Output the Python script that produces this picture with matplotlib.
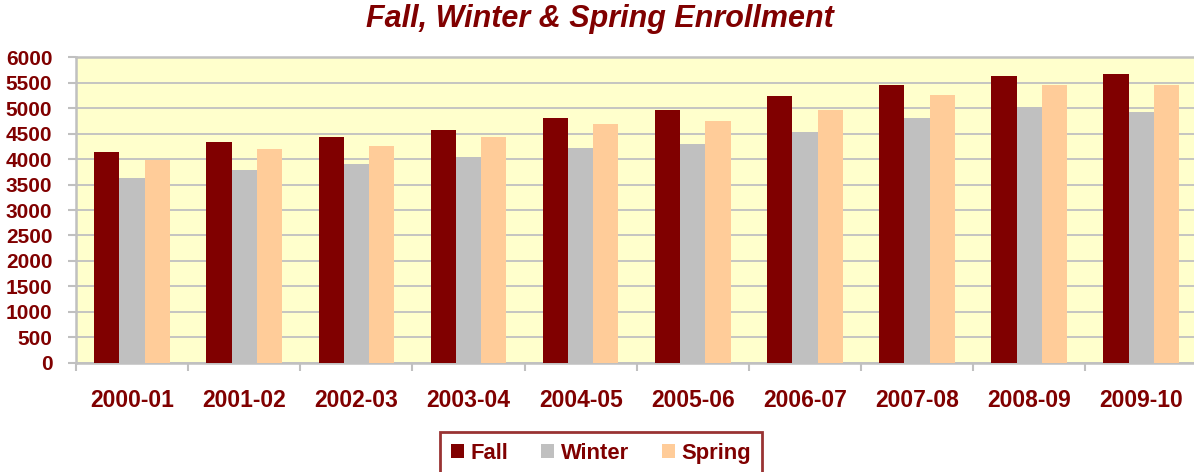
import matplotlib
matplotlib.use("Agg")
import matplotlib.pyplot as plt
import numpy as np

years = ["2000-01", "2001-02", "2002-03", "2003-04", "2004-05",
         "2005-06", "2006-07", "2007-08", "2008-09", "2009-10"]
fall = [4130, 4340, 4430, 4580, 4800, 4960, 5230, 5460, 5630, 5670]
winter = [3620, 3780, 3900, 4050, 4210, 4290, 4530, 4800, 5020, 4920]
spring = [3980, 4200, 4260, 4430, 4680, 4740, 4970, 5260, 5460, 5460]
yticks = [0, 500, 1000, 1500, 2000, 2500, 3000, 3500, 4000, 4500, 5000, 5500, 6000]

plt.rcParams['font.family'] = ['Liberation Sans', 'DejaVu Sans']
DARK = '#800000'
GRID = '#C0C0C0'

W, H = 1194, 472
fig = plt.figure(figsize=(W / 100, H / 100), dpi=100)
ax = fig.add_axes([76 / W, 1 - 362.7 / H, (1197.4 - 76) / W, (362.7 - 57.3) / H])
ax.set_facecolor('#FFFFCC')

x = np.arange(len(years))
bw = 0.225
ax.bar(x - bw, fall, bw, color=DARK, label='Fall', zorder=3)
ax.bar(x, winter, bw, color='#C0C0C0', label='Winter', zorder=3)
ax.bar(x + bw, spring, bw, color='#FFCC99', label='Spring', zorder=3)

ax.set_xlim(-0.5, len(years) - 0.5)
ax.set_ylim(0, 6000)
ax.set_yticks(yticks)
ax.yaxis.grid(True, color=GRID, linewidth=1.3, zorder=1)
ax.set_axisbelow(True)

ax.set_xticks(x)
ax.set_xticklabels(years)
ax.set_xticks(np.arange(-0.5, len(years), 1.0), minor=True)
ax.tick_params(axis='x', which='major', length=0, pad=19, labelsize=16.5,
               labelcolor=DARK)
ax.tick_params(axis='x', which='minor', length=6, width=1.5, color=GRID)
ax.tick_params(axis='y', length=6, width=1.5, color=GRID, pad=11,
               labelsize=15, labelcolor=DARK)
for lab in ax.get_xticklabels() + ax.get_yticklabels():
    lab.set_fontweight('bold')

for s in ['left', 'bottom', 'top']:
    ax.spines[s].set_color(GRID)
    ax.spines[s].set_linewidth(1.8)
ax.spines['right'].set_visible(False)

fig.text(600 / W, 1 - 19 / H, "Fall, Winter & Spring Enrollment",
         ha='center', va='center', fontsize=22, fontweight='bold',
         fontstyle='italic', color=DARK)

leg = fig.legend(loc='upper center', bbox_to_anchor=(601 / W, 1 - 432 / H),
                 ncol=3, frameon=True, fancybox=False, edgecolor=DARK,
                 handlelength=0.6, handleheight=0.6, handletextpad=0.3,
                 columnspacing=1.5, borderpad=0.5, borderaxespad=0,
                 prop={'size': 15.8, 'weight': 'bold'})
leg.get_frame().set_linewidth(2)
for t in leg.get_texts():
    t.set_color(DARK)

fig.savefig('out.png', dpi=100)
